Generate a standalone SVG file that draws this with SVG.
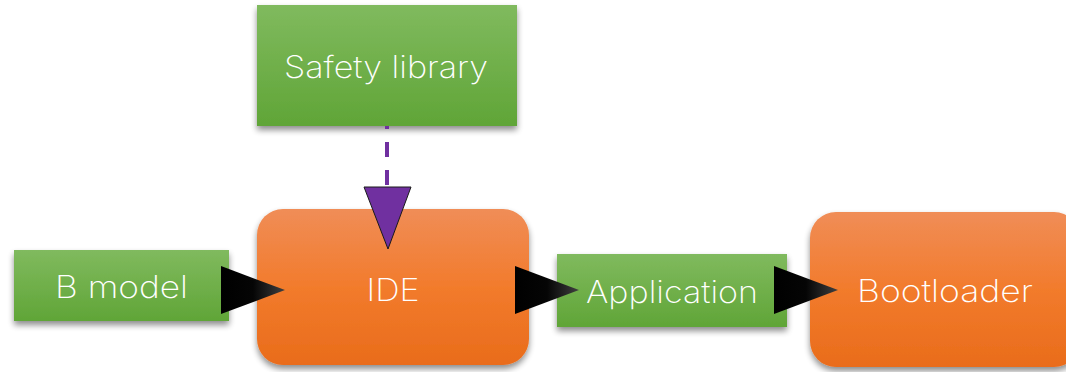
<svg xmlns="http://www.w3.org/2000/svg" width="1066" height="372" viewBox="0 0 1066 372">
  <defs>
    <linearGradient id="gGreen" x1="0" y1="0" x2="0" y2="1">
      <stop offset="0" stop-color="#80ba5e"/>
      <stop offset="1" stop-color="#60a537"/>
    </linearGradient>
    <linearGradient id="gOrange" x1="0" y1="0" x2="0" y2="1">
      <stop offset="0" stop-color="#f08d57"/>
      <stop offset="0.5" stop-color="#f27b2c"/>
      <stop offset="1" stop-color="#e96c1b"/>
    </linearGradient>
    <linearGradient id="gHead" x1="0" y1="0" x2="1" y2="0">
      <stop offset="0" stop-color="#000"/>
      <stop offset="0.5" stop-color="#050505"/>
      <stop offset="1" stop-color="#404040"/>
    </linearGradient>
    <filter id="shadow" x="-10%" y="-10%" width="120%" height="130%">
      <feGaussianBlur in="SourceAlpha" stdDeviation="3"/>
      <feOffset dx="0" dy="4" result="b"/>
      <feComponentTransfer><feFuncA type="linear" slope="0.45"/></feComponentTransfer>
      <feMerge><feMergeNode/><feMergeNode in="SourceGraphic"/></feMerge>
    </filter>
  </defs>
  <style>
    .box { fill: url(#gGreen); filter: url(#shadow); }
    .tool { fill: url(#gOrange); filter: url(#shadow); }
    .lbl { font-family: Inter, Roboto, "Liberation Sans", sans-serif; font-weight: 250; font-size: 31px; fill: #ffffff; text-anchor: middle; }
    .head { fill: url(#gHead); }
    .dash { stroke: #7030a0; stroke-width: 4; stroke-dasharray: 15 13; stroke-dashoffset: 12; fill: none; }
    .phead { fill: #7030a0; stroke: #1a1a1a; stroke-width: 1; }
  </style>

  <g id="safety-library">
    <rect class="box" x="257" y="5" width="260" height="121"/>
    <text class="lbl" x="386" y="78" textLength="204" lengthAdjust="spacingAndGlyphs">Safety library</text>
  </g>

  <g id="b-model">
    <rect class="box" x="14" y="250" width="215" height="71"/>
    <text class="lbl" x="121.5" y="298" textLength="133" lengthAdjust="spacingAndGlyphs">B model</text>
  </g>

  <g id="ide">
    <rect class="tool" x="257" y="209" width="272" height="156" rx="26" ry="26"/>
    <text class="lbl" x="393" y="301" textLength="53" lengthAdjust="spacingAndGlyphs">IDE</text>
  </g>

  <g id="application">
    <rect class="box" x="557" y="254" width="230" height="73"/>
    <text class="lbl" x="672" y="303" textLength="172" lengthAdjust="spacingAndGlyphs">Application</text>
  </g>

  <g id="bootloader">
    <rect class="tool" x="810" y="212" width="270" height="155" rx="26" ry="26"/>
    <text class="lbl" x="945" y="302" textLength="176" lengthAdjust="spacingAndGlyphs">Bootloader</text>
  </g>

  <g id="connectors">
    <line class="dash" x1="387" y1="126" x2="387" y2="187"/>
    <polygon class="phead" points="364,187 411,187 388,249"/>
    <polygon class="head" points="221,266 285,290 221,314"/>
    <polygon class="head" points="515,266 579,290 515,314"/>
    <polygon class="head" points="774,266 838,290 774,314"/>
  </g>
</svg>
